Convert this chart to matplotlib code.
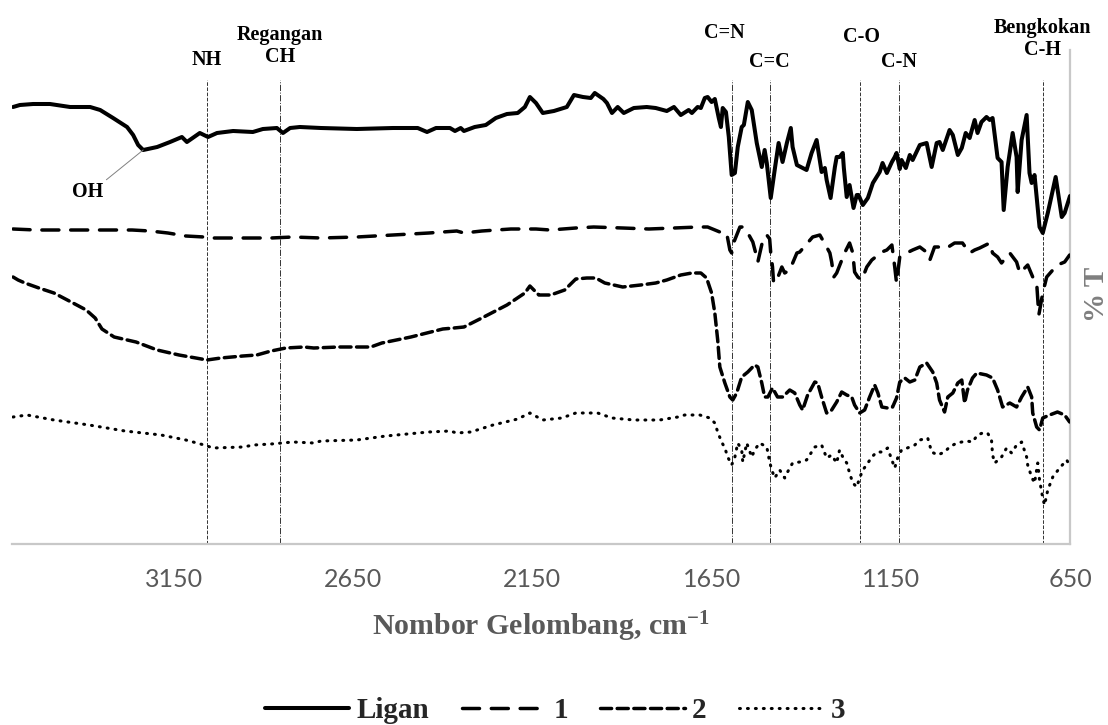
import matplotlib
matplotlib.use("Agg")
import matplotlib.pyplot as plt
from matplotlib.font_manager import FontProperties

# ---------------- data (wavenumber cm-1, %T in arbitrary offset units) -------------
wn_ligan = [3599, 3580, 3543, 3496, 3440, 3384, 3356, 3320, 3281, 3264,
            3250, 3236, 3197, 3161, 3128, 3114, 3078, 3055, 3030, 2985,
            2930, 2902, 2863, 2846, 2826, 2799, 2740, 2640, 2539, 2470,
            2444, 2419, 2380, 2366, 2350, 2341, 2311, 2280, 2252, 2221,
            2191, 2171, 2157, 2140, 2121, 2090, 2054, 2034, 2009, 1987,
            1976, 1952, 1942, 1928, 1912, 1895, 1867, 1831, 1806, 1775,
            1755, 1736, 1714, 1705, 1689, 1680, 1669, 1661, 1650, 1641,
            1630, 1624, 1619, 1610, 1602, 1594, 1585, 1577, 1566, 1560,
            1549, 1538, 1524, 1510, 1502, 1496, 1485, 1474, 1463, 1452,
            1440, 1429, 1424, 1412, 1385, 1371, 1357, 1343, 1334, 1329,
            1318, 1306, 1301, 1293, 1284, 1281, 1273, 1265, 1254, 1245,
            1240, 1228, 1214, 1200, 1181, 1173, 1161, 1147, 1139, 1134,
            1125, 1120, 1108, 1097, 1089, 1069, 1050, 1036, 1022, 1014,
            1005, 986, 977, 963, 952, 941, 930, 916, 908, 897,
            883, 874, 866, 852, 841, 835, 824, 810, 799, 796,
            785, 771, 763, 757, 749, 735, 726, 712, 690, 673,
            665, 650]
t_ligan = [437, 439, 440, 440, 437, 437, 434, 426, 417, 409,
           399, 394, 397, 402, 407, 402, 411, 407, 411, 413,
           412, 415, 416, 411, 416, 417, 416, 415, 416, 416,
           412, 416, 416, 413, 416, 413, 417, 419, 426, 430,
           431, 437, 447, 441, 431, 433, 437, 449, 447, 446,
           451, 445, 441, 431, 437, 431, 436, 437, 436, 433,
           437, 429, 434, 431, 437, 436, 446, 447, 442, 445,
           426, 417, 436, 432, 407, 369, 371, 397, 417, 419,
           442, 434, 401, 377, 394, 381, 346, 374, 401, 382,
           401, 416, 397, 379, 374, 391, 404, 372, 376, 364,
           346, 377, 387, 387, 391, 376, 347, 359, 336, 349,
           349, 339, 346, 361, 372, 381, 371, 382, 387, 391,
           375, 384, 376, 389, 384, 399, 401, 377, 401, 402,
           394, 414, 409, 389, 396, 411, 406, 424, 411, 422,
           427, 424, 426, 386, 382, 334, 377, 411, 387, 352,
           404, 429, 371, 361, 369, 317, 311, 331, 367, 327,
           331, 348]

wn_1 = [3599, 3535, 3437, 3337, 3267, 3217, 3167, 3117, 3066, 3038,
        2977, 2879, 2818, 2740, 2640, 2539, 2439, 2361, 2341, 2291,
        2210, 2140, 2101, 2029, 1979, 1898, 1825, 1755, 1686, 1661,
        1627, 1608, 1599, 1594, 1591, 1571, 1563, 1549, 1535, 1524,
        1521, 1507, 1496, 1488, 1485, 1480, 1477, 1468, 1454, 1446,
        1432, 1412, 1404, 1368, 1348, 1329, 1320, 1315, 1309, 1301,
        1279, 1265, 1256, 1251, 1242, 1231, 1217, 1203, 1175, 1161,
        1147, 1139, 1134, 1125, 1106, 1089, 1069, 1047, 1041, 1028,
        1014, 994, 972, 950, 930, 916, 902, 874, 866, 852,
        841, 818, 799, 790, 768, 754, 743, 737, 726, 715,
        698, 685, 665, 651]
t_1 = [315, 314, 314, 314, 314, 313, 311, 308, 307, 306,
       306, 306, 307, 306, 307, 309, 311, 313, 311, 313,
       315, 315, 314, 316, 317, 316, 315, 316, 317, 317,
       312, 311, 294, 291, 299, 317, 317, 311, 302, 287,
       282, 304, 309, 305, 291, 277, 261, 264, 277, 271,
       274, 291, 292, 307, 309, 297, 291, 282, 267, 271,
       291, 301, 291, 272, 267, 264, 277, 284, 292, 294,
       299, 277, 261, 287, 291, 294, 297, 291, 284, 297,
       297, 296, 301, 301, 291, 294, 296, 301, 291, 287,
       281, 291, 282, 271, 279, 267, 261, 229, 251, 267,
       274, 279, 282, 289]

wn_2 = [3599, 3585, 3566, 3527, 3485, 3437, 3395, 3370, 3351, 3317,
        3256, 3197, 3136, 3089, 3058, 3019, 2958, 2919, 2879, 2838,
        2787, 2760, 2690, 2640, 2601, 2570, 2489, 2400, 2369, 2341,
        2291, 2221, 2171, 2157, 2132, 2099, 2060, 2029, 1998, 1973,
        1948, 1898, 1848, 1806, 1775, 1736, 1705, 1680, 1664, 1650,
        1641, 1633, 1627, 1613, 1599, 1591, 1580, 1566, 1549, 1530,
        1521, 1510, 1502, 1493, 1480, 1466, 1452, 1432, 1418, 1404,
        1396, 1382, 1362, 1354, 1343, 1329, 1315, 1301, 1287, 1273,
        1259, 1251, 1237, 1223, 1209, 1195, 1186, 1175, 1159, 1145,
        1134, 1125, 1111, 1097, 1083, 1069, 1050, 1033, 1022, 1014,
        1000, 991, 977, 963, 952, 944, 936, 922, 910, 883,
        866, 852, 838, 818, 799, 785, 768, 757, 754, 743,
        735, 726, 707, 685, 665, 651]
t_2 = [267, 264, 261, 256, 251, 242, 234, 226, 215, 207,
       202, 194, 189, 186, 184, 186, 188, 189, 193, 196,
       197, 196, 197, 197, 197, 201, 207, 215, 216, 217,
       226, 239, 251, 258, 249, 249, 254, 265, 266, 266,
       261, 257, 259, 261, 264, 269, 271, 271, 266, 251,
       231, 204, 177, 161, 147, 144, 151, 167, 172, 179,
       177, 161, 147, 147, 156, 147, 147, 154, 151, 139,
       134, 149, 162, 161, 147, 131, 134, 142, 152, 149,
       147, 139, 131, 134, 147, 159, 151, 137, 136, 137,
       146, 162, 166, 162, 164, 177, 181, 172, 161, 144,
       132, 147, 151, 161, 164, 141, 154, 166, 171, 169,
       166, 154, 137, 141, 137, 147, 157, 147, 131, 117,
       114, 126, 129, 132, 129, 122]

wn_3 = [3599, 3560, 3485, 3387, 3287, 3186, 3117, 3066, 3041, 2958,
        2927, 2879, 2818, 2760, 2740, 2640, 2559, 2439, 2380, 2361,
        2322, 2260, 2191, 2157, 2121, 2068, 2029, 1968, 1928, 1867,
        1795, 1744, 1725, 1683, 1655, 1641, 1633, 1622, 1613, 1605,
        1594, 1585, 1577, 1566, 1563, 1552, 1538, 1530, 1516, 1496,
        1488, 1482, 1474, 1460, 1446, 1438, 1424, 1404, 1385, 1362,
        1343, 1329, 1315, 1301, 1293, 1284, 1273, 1265, 1256, 1245,
        1237, 1228, 1214, 1203, 1189, 1175, 1159, 1147, 1139, 1131,
        1120, 1104, 1083, 1069, 1047, 1036, 1019, 1000, 986, 966,
        938, 922, 908, 894, 880, 869, 866, 860, 841, 827,
        813, 799, 785, 771, 768, 757, 749, 740, 735, 726,
        721, 712, 698, 679, 659, 651]
t_3 = [127, 129, 124, 119, 113, 109, 104, 99, 96, 97,
       99, 100, 102, 101, 103, 104, 108, 112, 113, 111,
       112, 119, 125, 131, 124, 126, 131, 131, 126, 124,
       124, 127, 129, 129, 126, 121, 112, 102, 96, 87,
       79, 87, 101, 94, 82, 101, 87, 94, 101, 97,
       82, 74, 66, 74, 66, 72, 81, 82, 84, 97,
       99, 86, 89, 81, 94, 87, 81, 71, 61, 57,
       66, 74, 81, 87, 92, 92, 96, 84, 76, 86,
       94, 96, 99, 104, 106, 92, 89, 92, 97, 101,
       103, 102, 109, 111, 111, 104, 89, 81, 87, 96,
       91, 99, 102, 87, 79, 67, 61, 81, 64, 46,
       39, 54, 67, 76, 84, 78]

series_names = ["Ligan", "1", "2", "3"]
x_ticks = [3150, 2650, 2150, 1650, 1150, 650]

band_labels = ["NH", "Regangan\nCH", "C=N", "C=C", "C-O", "C-N", "Bengkokan\nC-H"]
band_wn = [3058, 2854, 1594, 1488, 1237, 1128, 726]
band_label_wn = [3058, 2854, 1613, 1488, 1231, 1128, 726]
band_label_t = [484, 498, 511, 482, 507, 482, 505]
oh_peak = (3236, 394)
oh_text = (3390, 352)

for a, b in [(wn_ligan, t_ligan), (wn_1, t_1), (wn_2, t_2), (wn_3, t_3)]:
    assert len(a) == len(b)

# ---------------- figure ----------------
plt.rcParams['mathtext.fontset'] = 'custom'
plt.rcParams['mathtext.rm'] = 'Liberation Serif:bold'
plt.rcParams['mathtext.bf'] = 'Liberation Serif:bold'
plt.rcParams['mathtext.it'] = 'Liberation Serif:bold'

W, H = 1108, 725
fig = plt.figure(figsize=(W / 100, H / 100), dpi=100)
ax = fig.add_axes([12 / W, 1 - 544 / H, (1070 - 12) / W, (544 - 50) / H])
ax.set_xlim(3602, 650)
ax.set_ylim(0, 494)

ax.plot(wn_ligan, t_ligan, color='black', lw=2.9, solid_joinstyle='round',
        solid_capstyle='round', label=series_names[0], zorder=3)
ax.plot(wn_1, t_1, color='black', lw=2.5, dashes=(4.9, 3.4),
        dash_capstyle='round', label=series_names[1], zorder=3)
ax.plot(wn_2, t_2, color='black', lw=2.5, dashes=(3.2, 1.6),
        dash_capstyle='round', label=series_names[2], zorder=3)
ax.plot(wn_3, t_3, color='black', lw=2.2, dashes=(0.3, 2.3),
        dash_capstyle='round', label=series_names[3], zorder=3)

# band marker lines
styles = ['--', '-.', '-.', '-.', '--', '-.', '--']
serif_b = dict(family='Liberation Serif', weight='bold')
for w, st in zip(band_wn, styles):
    ax.plot([w, w], [0, 464], color='#333333', lw=0.7, ls=st, zorder=1)
for lab, w, t in zip(band_labels, band_label_wn, band_label_t):
    ax.text(w, t, lab, ha='center', va='center', fontsize=14.5,
            linespacing=1.15, clip_on=False, color='black', **serif_b)

ax.annotate('OH', xy=oh_peak, xytext=oh_text, ha='center', va='center',
            fontsize=14.5, **serif_b,
            arrowprops=dict(arrowstyle='-', color='#808080', lw=0.7,
                            shrinkA=0, shrinkB=0, relpos=(1, 1)))

# axes styling
for s in ['top', 'left']:
    ax.spines[s].set_visible(False)
for s in ['bottom', 'right']:
    ax.spines[s].set_color('#c8c8c8')
    ax.spines[s].set_linewidth(1.6)
ax.set_yticks([])
ax.set_xticks(x_ticks)
ax.set_xticklabels([str(v) for v in x_ticks])
ax.tick_params(axis='x', length=0, pad=17, labelsize=18, labelcolor='#595959')
for lbl in ax.get_xticklabels():
    lbl.set_fontfamily('Lato')

ax.set_xlabel('Nombor Gelombang, cm$^{\\mathrm{-1}}$', fontsize=21.5,
              color='#595959', **serif_b)
ax.xaxis.set_label_coords(0.5, (544 - 627) / 494)
ax.xaxis.label.set_va('center')

ax.yaxis.set_label_position('right')
ax.set_ylabel('% T', fontsize=21, color='#7f7f7f', rotation=90, **serif_b)
ax.yaxis.set_label_coords((1096 - 12) / 1058, (544 - 294) / 494)
ax.yaxis.label.set_va('center')
ax.yaxis.label.set_ha('center')

fig.legend(loc='center', bbox_to_anchor=(555 / W, 1 - 711 / H), ncol=4,
           frameon=False,
           prop=FontProperties(family='Liberation Serif', weight='bold', size=21),
           handlelength=2.9, handletextpad=0.25, columnspacing=1.1,
           labelcolor='#262626')

fig.savefig('out.png', dpi=100)
